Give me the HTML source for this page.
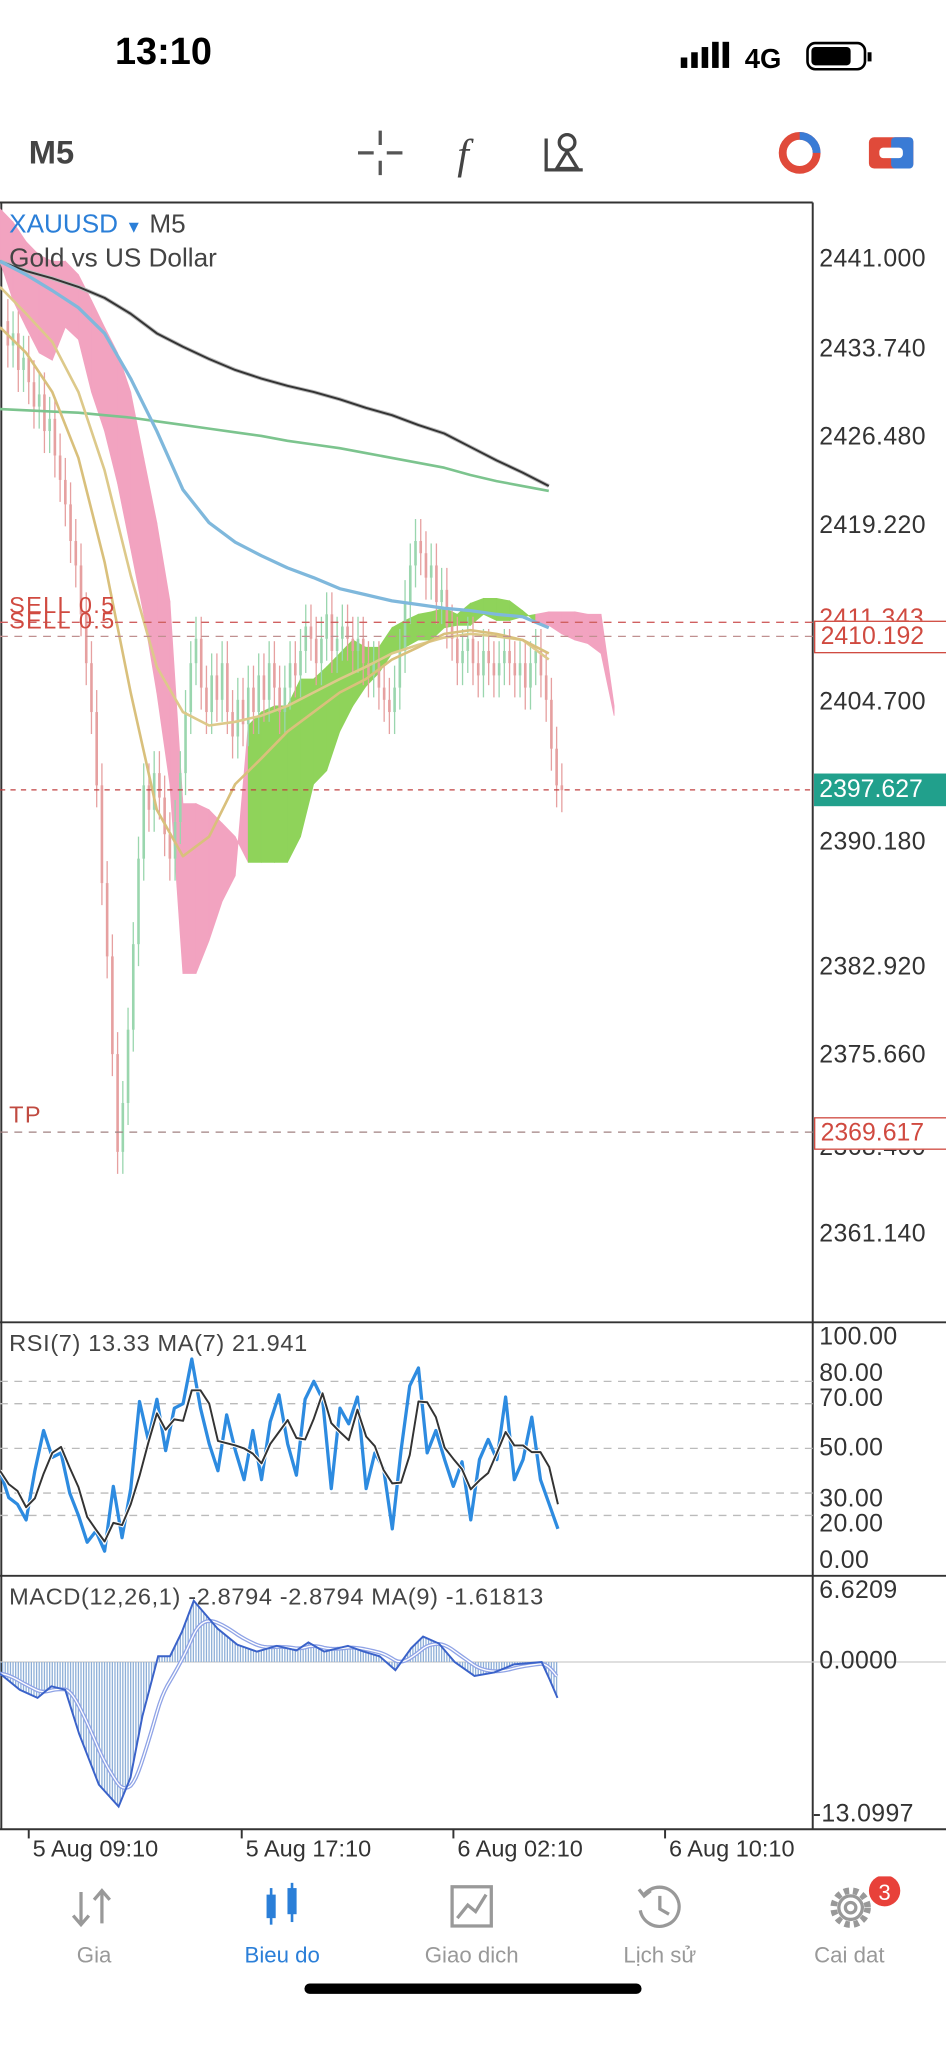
<!DOCTYPE html>
<html><head><meta charset="utf-8">
<style>
html,body{margin:0;padding:0;background:#fff;}
body{width:946px;height:2048px;overflow:hidden;position:relative;font-family:"Liberation Sans",sans-serif;}
#wrap{position:absolute;left:0;top:0;width:724px;height:1568px;transform:scale(1.30663);transform-origin:0 0;}
.t{position:absolute;white-space:nowrap;}
.ax{position:absolute;left:627px;font-size:19px;color:#333;letter-spacing:0.3px;}
.nav{position:absolute;top:1487px;font-size:17px;color:#999;text-align:center;width:120px;}
</style></head><body>
<div id="wrap">
  <div class="t" style="left:88px;top:24px;font-size:29px;font-weight:bold;color:#000">13:10</div>
  <svg style="position:absolute;left:518px;top:30px" width="160" height="28">
    <rect x="3" y="14" width="5" height="8" fill="#000"/><rect x="11" y="10" width="5" height="12" fill="#000"/><rect x="19" y="6" width="5" height="16" fill="#000"/><rect x="27" y="2" width="5" height="20" fill="#000"/><rect x="35" y="2" width="5" height="20" fill="#000"/>
    <text x="52" y="22" font-family="Liberation Sans" font-weight="bold" font-size="21" fill="#000">4G</text>
    <rect x="100" y="3" width="44" height="20" rx="6" fill="none" stroke="#000" stroke-width="2"/>
    <rect x="103" y="6" width="30" height="14" rx="3" fill="#000"/><rect x="146" y="10" width="3" height="7" fill="#000"/>
  </svg>
  <div class="t" style="left:22px;top:103px;font-size:25px;font-weight:bold;color:#444">M5</div>
  <svg style="position:absolute;left:270px;top:96px" width="200" height="42">
    <g stroke="#555" stroke-width="2.5"><line x1="4" y1="21" x2="16" y2="21"/><line x1="26" y1="21" x2="38" y2="21"/><line x1="21" y1="4" x2="21" y2="15"/><line x1="21" y1="27" x2="21" y2="38"/></g>
    <text x="80" y="33" font-family="Liberation Serif" font-style="italic" font-size="32" fill="#444">f</text>
    <g stroke="#444" stroke-width="2.5" fill="none"><polyline points="148,10 148,34 176,34"/><circle cx="164" cy="13" r="6"/><polygon points="156,33 164,20 172,33"/></g>
  </svg>
  <svg style="position:absolute;left:592px;top:98px" width="110" height="40">
    <circle cx="20" cy="19" r="13" fill="none" stroke="#e04a3a" stroke-width="6"/><path d="M20 6 A13 13 0 0 1 33 19" stroke="#3a7bd5" stroke-width="6" fill="none"/>
    <rect x="73" y="7" width="34" height="24" rx="4" fill="#e04a3a"/><rect x="90" y="7" width="17" height="24" rx="3" fill="#3a7bd5"/><rect x="81" y="15" width="18" height="8" rx="3" fill="#fff"/>
  </svg>

  <svg id="chart" style="position:absolute;left:0;top:0" width="724" height="1568"></svg>

  <div class="t" style="left:7px;top:161px;font-size:20px;color:#2b7fd8">XAUUSD <span style="font-size:13px">▼</span> <span style="color:#444">M5</span></div>
  <div class="t" style="left:7px;top:187px;font-size:20px;color:#444">Gold vs US Dollar</div>
  <div class="t" style="left:7px;top:453px;font-size:18px;color:#d04a40;letter-spacing:1px">SELL 0.5</div>
  <div class="t" style="left:7px;top:465px;font-size:18px;color:#d04a40;letter-spacing:1px">SELL 0.5</div>
  <div class="t" style="left:7px;top:843px;font-size:18px;color:#c04a40;letter-spacing:1px">TP</div>

  <div class="ax" style="top:188px">2441.000</div>
  <div class="ax" style="top:257px">2433.740</div>
  <div class="ax" style="top:324px">2426.480</div>
  <div class="ax" style="top:392px">2419.220</div>
  <div class="ax" style="top:527px">2404.700</div>
  <div class="ax" style="top:634px">2390.180</div>
  <div class="ax" style="top:730px">2382.920</div>
  <div class="ax" style="top:797px">2375.660</div>
  <div class="ax" style="top:868px">2368.400</div>
  <div class="ax" style="top:934px">2361.140</div>
  <div class="ax" style="top:463px;color:#d04a40">2411.343</div>
  <div class="t" style="left:623px;top:475px;width:96px;height:23px;border:1px solid #d04a40;background:#fff;color:#d04a40;font-size:19px;padding-left:4px;line-height:23px">2410.192</div>
  <div class="t" style="left:623px;top:592px;width:101px;height:25px;background:#21a08c;color:#fff;font-size:19px;padding-left:4px;line-height:25px">2397.627</div>
  <div class="t" style="left:623px;top:855px;width:96px;height:23px;border:1px solid #d04a40;background:#fff;color:#d04a40;font-size:19px;padding-left:4px;line-height:23px">2369.617</div>

  <div class="t" style="left:7px;top:1018px;font-size:18px;color:#444;letter-spacing:0.5px">RSI(7) 13.33 MA(7) 21.941</div>
  <div class="ax" style="top:1013px">100.00</div>
  <div class="ax" style="top:1041px">80.00</div>
  <div class="ax" style="top:1060px">70.00</div>
  <div class="ax" style="top:1098px">50.00</div>
  <div class="ax" style="top:1137px">30.00</div>
  <div class="ax" style="top:1156px">20.00</div>
  <div class="ax" style="top:1184px">0.00</div>
  <div class="t" style="left:7px;top:1212px;font-size:18px;color:#444;letter-spacing:0.5px">MACD(12,26,1) -2.8794 -2.8794 MA(9) -1.61813</div>
  <div class="ax" style="top:1207px">6.6209</div>
  <div class="ax" style="top:1261px">0.0000</div>
  <div class="ax" style="top:1378px;left:622px">-13.0997</div>

  <div class="t" style="left:25px;top:1405px;font-size:18px;color:#333">5 Aug 09:10</div>
  <div class="t" style="left:188px;top:1405px;font-size:18px;color:#333">5 Aug 17:10</div>
  <div class="t" style="left:350px;top:1405px;font-size:18px;color:#333">6 Aug 02:10</div>
  <div class="t" style="left:512px;top:1405px;font-size:18px;color:#333">6 Aug 10:10</div>

  <svg style="position:absolute;left:0;top:1436px" width="724" height="50">
    <g stroke="#999" stroke-width="2.5" fill="none"><line x1="62" y1="12" x2="62" y2="36"/><polyline points="56,30 62,37 68,30"/><line x1="78" y1="12" x2="78" y2="36"/><polyline points="72,18 78,11 84,18"/></g>
    <g fill="#2b7fd8"><rect x="204" y="14" width="7" height="18"/><rect x="206.5" y="9" width="2" height="28"/><rect x="220" y="9" width="7" height="20"/><rect x="222.5" y="5" width="2" height="30"/></g>
    <g stroke="#999" stroke-width="2.5" fill="none"><rect x="346" y="8" width="30" height="30"/><polyline points="350,32 358,22 364,27 372,14"/></g>
    <g stroke="#999" stroke-width="2.5" fill="none"><path d="M493 14 A15 15 0 1 1 490 26"/><polyline points="489,10 493,15 498,11"/><polyline points="505,15 505,25 512,29"/></g>
    <g><circle cx="651" cy="24" r="13" fill="none" stroke="#999" stroke-width="5" stroke-dasharray="4 3"/><circle cx="651" cy="24" r="9" fill="none" stroke="#999" stroke-width="2.5"/><circle cx="651" cy="24" r="4" fill="none" stroke="#999" stroke-width="2.5"/></g>
    <circle cx="677" cy="11" r="12" fill="#e8413a"/>
    <text x="677" y="18" text-anchor="middle" font-family="Liberation Sans" font-size="17" fill="#fff">3</text>
  </svg>
  <div class="nav" style="left:12px">Gia</div>
  <div class="nav" style="left:156px;color:#2b7fd8">Bieu do</div>
  <div class="nav" style="left:301px">Giao dich</div>
  <div class="nav" style="left:445px">Lịch sử</div>
  <div class="nav" style="left:590px">Cai dat</div>
  <div style="position:absolute;left:233px;top:1518px;width:258px;height:8px;border-radius:4px;background:#000"></div>
</div>
<script>
const closes=[2436,2434,2435,2432,2433,2431,2429,2430,2427,2428,2425,2423,2421,2418,2416,2412,2408,2404,2398,2390,2384,2376,2368,2372,2378,2385,2392,2398,2396,2399,2397,2394,2392,2395,2399,2404,2408,2410,2406,2404,2407,2405,2408,2404,2402,2405,2403,2406,2404,2407,2405,2408,2406,2404,2406,2408,2407,2409,2411,2410,2408,2410,2412,2409,2410,2411,2410,2409,2410,2408,2407,2408,2406,2405,2404,2406,2409,2413,2416,2418,2417,2415,2416,2413,2414,2411,2410,2408,2409,2410,2408,2407,2409,2408,2407,2408,2409,2408,2407,2408,2406,2408,2409,2407,2405,2401,2398,2397.6];
const spanA=[2440.9,2437.7,2435.5,2433.4,2432.8,2435.5,2434.5,2430.2,2427.0,2422.7,2417.4,2412.0,2405.6,2398.1,2382.6,2382.6,2385.3,2388.5,2390.6,2402.9,2404.0,2404.5,2404.5,2406.7,2406.7,2407.7,2408.8,2409.9,2409.3,2409.3,2410.9,2411.5,2412.0,2412.2,2412.5,2412.0,2412.9,2413.3,2413.3,2413.1,2412.3,2411.4,2411.1,2410.4,2409.9,2409.6,2408.8,2403.7];
const spanB=[2445.2,2444.1,2442.5,2441.4,2440.9,2440.9,2439.8,2437.7,2435.5,2433.4,2430.2,2424.8,2419.5,2413.1,2396.5,2396.5,2396.0,2394.9,2393.8,2391.7,2391.7,2391.7,2391.7,2393.8,2398.1,2399.2,2402.4,2404.5,2406.1,2407.2,2408.8,2409.3,2409.9,2409.9,2410.9,2411.1,2411.1,2412.0,2411.5,2411.5,2411.8,2412.0,2412.2,2412.2,2412.2,2412.0,2412.0,2404.5];
const maSlow=[2440.9,2440.1,2439.5,2438.8,2437.9,2436.6,2435.0,2433.9,2432.9,2432.0,2431.3,2430.7,2430.2,2429.6,2428.9,2428.3,2427.5,2426.8,2425.7,2424.6,2423.6,2422.5];
const maGreen=[2428.8,2428.7,2428.6,2428.5,2428.3,2428.1,2427.8,2427.5,2427.2,2426.9,2426.6,2426.2,2425.9,2425.6,2425.2,2424.8,2424.4,2424.0,2423.4,2422.9,2422.5,2422.1];
const maBlue=[2440.9,2439.8,2438.5,2437.1,2435.0,2431.3,2427.0,2422.2,2419.5,2417.9,2416.8,2415.8,2415.0,2414.1,2413.6,2413.1,2412.8,2412.5,2412.3,2412.0,2411.8,2410.9];
const maYellow1=[2438.8,2436.6,2434.3,2430.2,2423.8,2415.2,2407.7,2404.0,2402.9,2403.2,2403.7,2404.5,2405.6,2406.7,2407.7,2408.8,2409.5,2410.1,2410.4,2410.2,2409.9,2408.3];
const maYellow2=[2435.5,2433.4,2430.2,2424.8,2416.3,2405.6,2396.0,2392.2,2393.8,2398.1,2400.2,2402.4,2404.0,2405.6,2406.7,2408.3,2409.3,2410.4,2410.7,2410.4,2409.9,2408.8];
const rsiVals=[40,28,25,18,40,58,46,48,30,20,8,13,4,33,10,32,71,54,72,49,68,70,90,68,52,40,65,49,36,58,36,62,74,52,38,72,80,72,32,68,61,73,32,48,41,14,49,78,86,48,58,45,33,44,18,45,54,45,73,36,45,64,36,25,14];
const rsiLevels=[80,70,50,30,20];
const macdT=[0,50,95,130,165,200,250,300,330,360,400,430,460,490,520,550,600,650,700,750,780,820,880,920,960,1000,1040,1070,1110,1150,1200,1250,1300,1370,1390,1410];
const macdVals=[-1.0,-2.4,-3.1,-2.1,-2.4,-6.2,-10.6,-12.5,-10.0,-4.7,0.5,0.5,2.6,5.3,4.1,2.9,1.5,0.9,1.4,1.0,1.7,0.9,1.4,0.9,0.5,-0.7,1.2,2.2,1.6,0,-1.2,-0.9,-0.2,0,-1.5,-3.1];

const svg=document.getElementById('chart');
const NS='http://www.w3.org/2000/svg';
function mk(tag,attrs,parent){const e=document.createElementNS(NS,tag);for(const k in attrs)e.setAttribute(k,attrs[k]);(parent||svg).appendChild(e);return e;}
const py=p=>199+(2441-p)*9.35;
const bx=i=>2+i*4;
const cx=i=>i*10;
const mx=i=>i*20;
const ry=v=>1194-v*1.71;
const rx=i=>i*(427/(rsiVals.length-1));
const mtx=t=>t*0.3026;
const my=v=>1272-v*8.85;

let g=mk('g',{});


mk('line',{x1:0,y1:155,x2:622,y2:155,stroke:'#333','stroke-width':1.5},g);
mk('line',{x1:1,y1:155,x2:1,y2:1400,stroke:'#333','stroke-width':1.5},g);
mk('line',{x1:622,y1:155,x2:622,y2:1400,stroke:'#333','stroke-width':1.5},g);
[1012,1206,1400].forEach(y=>mk('line',{x1:0,y1:y,x2:724,y2:y,stroke:'#333','stroke-width':1.5},g));
[22,185,347,509].forEach(x=>mk('line',{x1:x,y1:1400,x2:x,y2:1407,stroke:'#333','stroke-width':1.5},g));

const cg=mk('g',{});


for(let i=0;i<spanA.length-1;i++){
  const bull=spanA[i]>=spanB[i];
  const q=mk('polygon',{points:`${cx(i)},${py(spanA[i])} ${cx(i+1)},${py(spanA[i+1])} ${cx(i+1)},${py(spanB[i+1])} ${cx(i)},${py(spanB[i])}`,fill:bull?'#8fd35a':'#f2a3c0',stroke:bull?'#8fd35a':'#f2a3c0','stroke-width':0.6},cg);
  
  
}
const kg=mk('g',{});


for(let i=1;i<closes.length;i++){
  const o=closes[i-1],c=closes[i];const up=c>=o;const col=up?'#9ad6ae':'#e6a0a0';
  const hi=Math.max(o,c)+1.8,lo=Math.min(o,c)-1.8;
  const w=mk('line',{x1:bx(i),y1:py(hi),x2:bx(i),y2:py(lo),stroke:col,'stroke-width':1},kg);
  
  
  const b=mk('rect',{x:bx(i)-1,y:py(Math.max(o,c)),width:2,height:Math.max(1,Math.abs(py(o)-py(c))),fill:col},kg);
  
  
}
function line(arr,xf,yf,col,w,name,outline){
  const pts=arr.map((v,i)=>xf(i)+','+yf(v)).join(' ');
  if(outline){const o=mk('polyline',{points:pts,fill:'none',stroke:outline,'stroke-width':w+1.5});}
  const p=mk('polyline',{points:pts,fill:'none',stroke:col,'stroke-width':w,'stroke-linejoin':'round'});
  
  
}
line(maSlow,mx,py,'#333',1.5,'ma-slow','#bbb');
line(maGreen,mx,py,'#7cc48e',2,'ma-green');
line(maBlue,mx,py,'#7fb8dc',2.5,'ma-blue');
line(maYellow1,mx,py,'#ddc98a',2,'ma-yellow-1');
line(maYellow2,mx,py,'#d9c07c',2,'ma-yellow-2');

const hl=(y,col,dash,name)=>{const l=mk('line',{x1:0,y1:y,x2:622,y2:y,stroke:col,'stroke-width':1,'stroke-dasharray':dash});};
hl(py(2411.343),'#d06060','6 5','sell-line-1');
hl(py(2410.192),'#c09090','6 5','sell-line-2');
hl(py(2397.627),'#c04040','4 4','current-price-line');
hl(py(2369.617),'#a08080','6 5','tp-line');

rsiLevels.forEach(v=>{const l=mk('line',{x1:0,y1:ry(v),x2:622,y2:ry(v),stroke:'#bbb','stroke-width':1,'stroke-dasharray':'6 5'});});
line(rsiVals,rx,ry,'#2d8be0',2.5,'rsi-line');
const rsiMa=rsiVals.map((v,i)=>{let s=0,n=0;for(let k=Math.max(0,i-2);k<=i;k++){s+=rsiVals[k];n++;}return s/n;});
line(rsiMa,rx,ry,'#333',1.5,'rsi-ma-line','#fff');

const zl=mk('line',{x1:0,y1:my(0),x2:724,y2:my(0),stroke:'#ccc','stroke-width':1});


function interp(t){for(let k=0;k<macdT.length-1;k++){if(t<=macdT[k+1]){const f=(t-macdT[k])/(macdT[k+1]-macdT[k]);return macdVals[k]+f*(macdVals[k+1]-macdVals[k]);}}return macdVals[macdVals.length-1];}
const hg=mk('g',{});


const step=2/0.3026;const series=[];
for(let t=0;t<=macdT[macdT.length-1];t+=step){const v=interp(t);series.push([t,v]);
  const b=mk('line',{x1:mtx(t),y1:my(0),x2:mtx(t),y2:my(v),stroke:'#8fb0d8','stroke-width':1},hg);
  
  }
let s=series[0][1];const sig=series.map(p=>{s=s+0.15*(p[1]-s);return [p[0],s];});
const sp=mk('polyline',{points:sig.map(p=>mtx(p[0])+','+my(p[1])).join(' '),fill:'none',stroke:'#8fa3e6','stroke-width':3});


const sp2=mk('polyline',{points:sig.map(p=>mtx(p[0])+','+my(p[1])).join(' '),fill:'none',stroke:'#fff','stroke-width':1});


const ml=mk('polyline',{points:macdT.map((t,i)=>mtx(t)+','+my(macdVals[i])).join(' '),fill:'none',stroke:'#3a62c9','stroke-width':1.5});


</script>
</body></html>
